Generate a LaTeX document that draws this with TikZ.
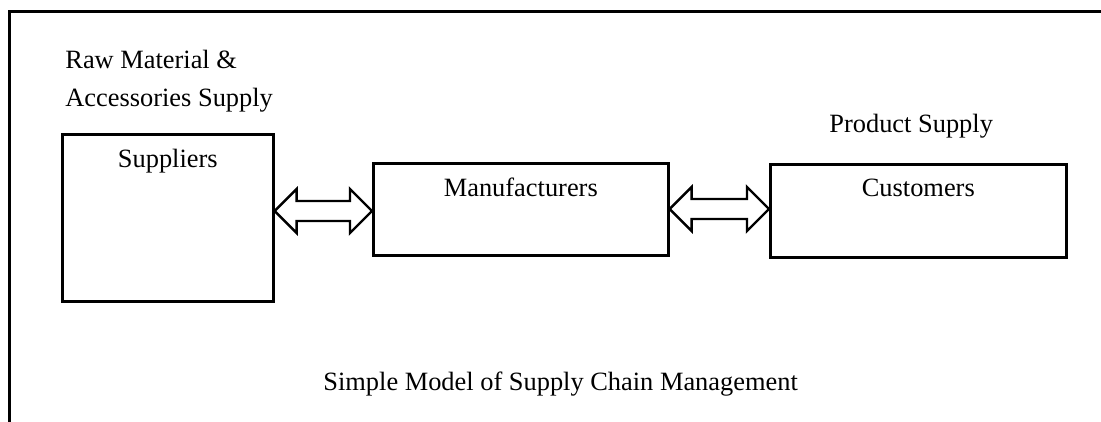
\documentclass[tikz,border=0pt]{standalone}
\usepackage{fontspec}
\setmainfont{Liberation Serif}
\usetikzlibrary{calc}

\tikzset{
  frameline/.style={line width=1.5pt, line join=miter},
  stagebox/.style={draw, line width=1.3pt, rectangle, inner sep=0pt, anchor=north west},
  boxtitle/.style={anchor=base, inner sep=0pt, font=\fontsize{13.2}{19}\selectfont},
  plaintext/.style={anchor=base west, inner sep=0pt, align=left, font=\fontsize{13.2}{19}\selectfont},
  dblarrow/.style={draw, line width=1.2pt, line join=miter, fill=white}
}

% two-headed block arrow between two named points on the same height
\newcommand{\blockarrow}[2]{%
  \draw[dblarrow] (#1) -- ++(22,-22) -- ++(0,12) -- ($(#2)+(-22,-10)$) -- ++(0,-12)
    -- (#2) -- ++(-22,22) -- ++(0,-12) -- ($(#1)+(22,10)$) -- ++(0,12) -- cycle;}

\begin{document}
\begin{tikzpicture}[x=0.5pt, y=-0.5pt]
  \useasboundingbox (0,0) rectangle (1101,422);

  % open frame: left and top edges
  \draw[frameline] (9,430) -- (9,12) -- (1110,12);

  % stages of the chain
  \node[stagebox, minimum width=105.5pt, minimum height=83.5pt] (sup) at (61,133) {};
  \node[stagebox, minimum width=147.5pt, minimum height=46pt]   (man) at (372,162) {};
  \node[stagebox, minimum width=148pt,   minimum height=46.5pt] (cus) at (769,163) {};

  \node[boxtitle] (suptext) at ($(sup.north)+(0,35)$) {Suppliers};
  \node[boxtitle] (mantext) at ($(man.north)+(0,35)$) {Manufacturers};
  \node[boxtitle] (custext) at ($(cus.north)+(0,34)$) {Customers};

  % flow labels (a two-line node sits on the baseline of its last line)
  \node[plaintext] (rawmat) at (65,107) {Raw Material \&\\Accessories Supply};
  \node[plaintext] (prod) at (829,133) {Product Supply};
  \node[plaintext] (caption) at (323,390) {Simple Model of Supply Chain Management};

  % two-way links between the stages
  \coordinate (a1l) at (sup.east |- 0,211);
  \coordinate (a1r) at (man.west |- 0,211);
  \coordinate (a2l) at (man.east |- 0,209);
  \coordinate (a2r) at (cus.west |- 0,209);
  \blockarrow{a1l}{a1r}
  \blockarrow{a2l}{a2r}
\end{tikzpicture}
\end{document}
